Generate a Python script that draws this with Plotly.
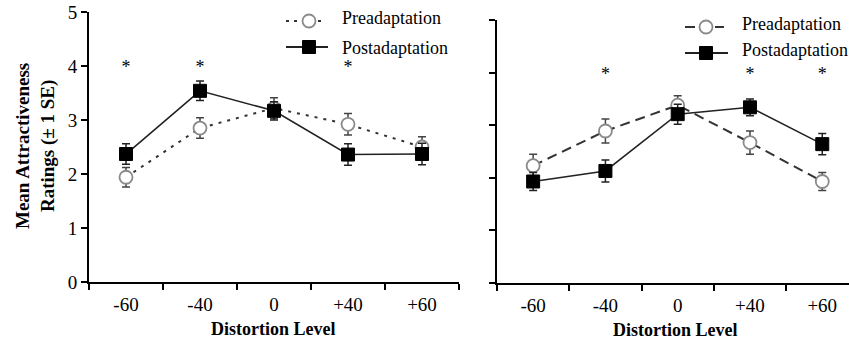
import plotly.graph_objects as go

W, H = 849, 341

categories = ["-60", "-40", "0", "+40", "+60"]

# Left panel
left_pre = [1.94, 2.85, 3.22, 2.92, 2.50]
left_pre_se = [0.18, 0.19, 0.19, 0.20, 0.19]
left_post = [2.37, 3.54, 3.17, 2.36, 2.37]
left_post_se = [0.19, 0.18, 0.17, 0.20, 0.20]
left_stars = ["-60", "-40", "+40"]

# Right panel
right_pre = [2.23, 2.89, 3.38, 2.67, 1.93]
right_pre_se = [0.22, 0.23, 0.18, 0.22, 0.17]
right_post = [1.93, 2.13, 3.21, 3.34, 2.64]
right_post_se = [0.17, 0.21, 0.19, 0.16, 0.20]
right_stars = ["-40", "+40", "+60"]

y_ticks = [0, 1, 2, 3, 4, 5]
star_level = 3.95

FONT = "Liberation Serif, Times New Roman, serif"

def px(x):
    return x / W

def py(y):
    return 1 - y / H

fig = go.Figure()

def add_panel(pre, pre_se, post, post_se, stars, xa, ya, pre_dash):
    fig.add_trace(go.Scatter(
        x=categories, y=pre, xaxis=xa, yaxis=ya, mode="lines+markers",
        line=dict(color="#333333", width=2, dash=pre_dash),
        marker=dict(symbol="circle", size=13, color="white",
                    line=dict(color="#8a8a8a", width=1.8)),
        error_y=dict(type="data", array=pre_se, visible=True,
                     color="#444444", thickness=1.5, width=4),
        showlegend=False))
    fig.add_trace(go.Scatter(
        x=categories, y=post, xaxis=xa, yaxis=ya, mode="lines+markers",
        line=dict(color="#222222", width=1.6),
        marker=dict(symbol="square", size=13, color="black",
                    line=dict(color="black", width=1)),
        error_y=dict(type="data", array=post_se, visible=True,
                     color="#222222", thickness=1.5, width=4),
        showlegend=False))
    fig.add_trace(go.Scatter(
        x=stars, y=[star_level] * len(stars), xaxis=xa, yaxis=ya,
        mode="text", text=["*"] * len(stars),
        textfont=dict(family=FONT, size=18, color="#000000"),
        textposition="middle center", showlegend=False, hoverinfo="skip"))

add_panel(left_pre, left_pre_se, left_post, left_post_se, left_stars, "x", "y", "3px,6px")
add_panel(right_pre, right_pre_se, right_post, right_post_se, right_stars, "x2", "y2", "10px,6px")

axis_common = dict(showline=True, linecolor="black", linewidth=2, ticks="outside",
                   ticklen=6, tickwidth=2, tickcolor="black", showgrid=False,
                   zeroline=False, automargin=False,
                   tickfont=dict(family=FONT, size=19, color="black"))

fig.update_layout(
    width=W, height=H, margin=dict(l=0, r=0, t=0, b=0, pad=0),
    paper_bgcolor="white", plot_bgcolor="white",
    xaxis=dict(domain=[px(89), px(459)], type="category", categoryorder="array",
               categoryarray=categories, range=[-0.5, 4.5], tickson="boundaries",
               ticklabelstandoff=4, anchor="y", **axis_common),
    yaxis=dict(domain=[py(282), py(12)], range=[0, 5], tickvals=y_ticks,
               anchor="x", **axis_common),
    xaxis2=dict(domain=[px(497), 1.0], type="category", categoryorder="array",
                categoryarray=categories, range=[-0.5, 4.37], tickson="boundaries",
                ticklabelstandoff=4, anchor="y2", **axis_common),
    yaxis2=dict(domain=[py(283), py(20)], range=[0, 5], tickvals=y_ticks,
                showticklabels=False, anchor="x2", **axis_common),
)

annotations = [
    dict(text="<b>Distortion Level</b>", x=px(273), y=py(329), xref="paper", yref="paper",
         xanchor="center", yanchor="middle",
         showarrow=False, font=dict(family=FONT, size=18, color="black")),
    dict(text="<b>Distortion Level</b>", x=px(675), y=py(330), xref="paper", yref="paper",
         xanchor="center", yanchor="middle",
         showarrow=False, font=dict(family=FONT, size=18, color="black")),
    dict(text="<b>Mean Attractiveness<br>Ratings (± 1 SE)</b>", x=px(35), y=py(146),
         xref="paper", yref="paper", showarrow=False, textangle=-90,
         xanchor="center", yanchor="middle",
         font=dict(family=FONT, size=19, color="black")),
]

shapes = []

def legend(x0, x1, xc, y_pre, y_post, tx, ty_pre, ty_post, pre_dash):
    shapes.append(dict(type="line", xref="paper", yref="paper",
                       x0=px(x0), x1=px(x1), y0=py(y_pre), y1=py(y_pre),
                       line=dict(color="#333333", width=2, dash=pre_dash)))
    shapes.append(dict(type="circle", xref="paper", yref="paper",
                       x0=px(xc - 6.5), x1=px(xc + 6.5), y0=py(y_pre + 6.5), y1=py(y_pre - 6.5),
                       fillcolor="white", line=dict(color="#8a8a8a", width=1.8)))
    shapes.append(dict(type="line", xref="paper", yref="paper",
                       x0=px(x0), x1=px(x1 + 4), y0=py(y_post), y1=py(y_post),
                       line=dict(color="#222222", width=2)))
    shapes.append(dict(type="rect", xref="paper", yref="paper",
                       x0=px(xc - 6.5), x1=px(xc + 6.5), y0=py(y_post + 6.5), y1=py(y_post - 6.5),
                       fillcolor="black", line=dict(color="black", width=1)))
    for t, ty in (("Preadaptation", ty_pre), ("Postadaptation", ty_post)):
        annotations.append(dict(text=t, x=px(tx), y=py(ty), xref="paper", yref="paper",
                                xanchor="left", yanchor="middle", showarrow=False,
                                font=dict(family=FONT, size=18, color="black")))

legend(286, 324, 309, 21, 47, 340, 18, 48, "3px,5px")
legend(685, 724, 706, 27, 53, 740, 24, 50, "10px,5px")

fig.update_layout(annotations=annotations, shapes=shapes)

fig.write_html("out.html", config={"displayModeBar": False},
               post_script="document.body.style.margin='0';document.body.style.overflow='hidden';")
